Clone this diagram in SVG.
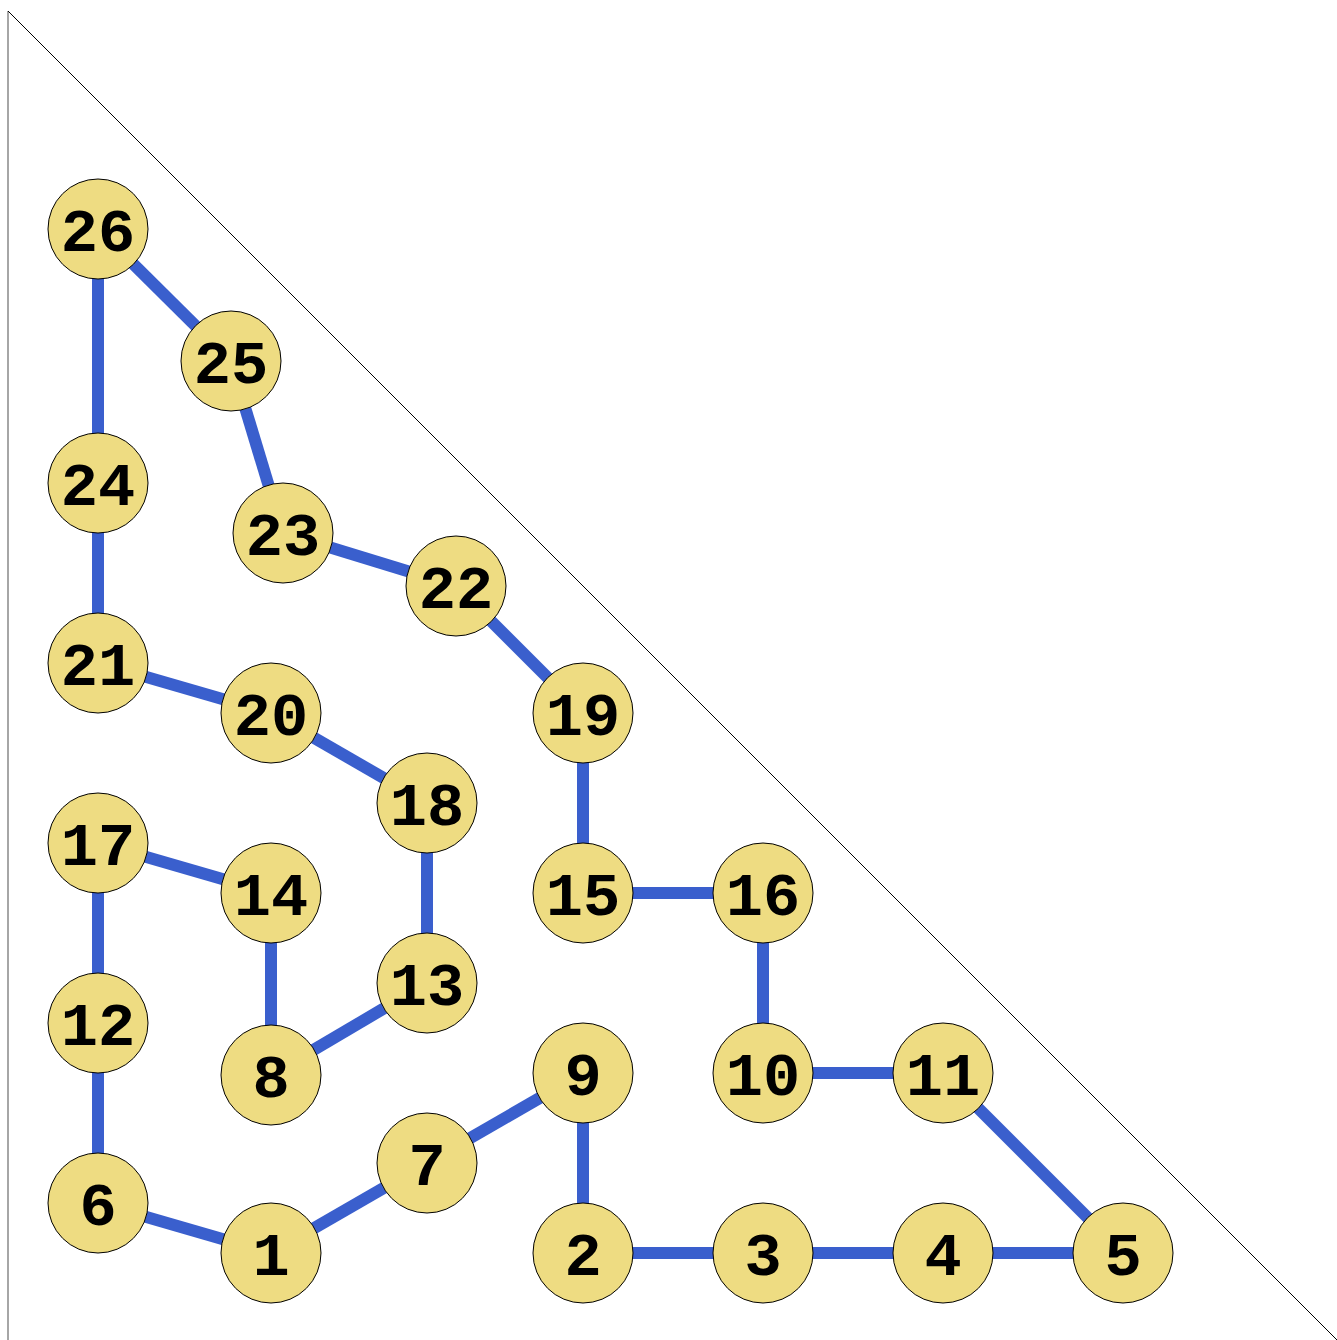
<svg xmlns="http://www.w3.org/2000/svg" width="1337" height="1340" viewBox="0 0 1337 1340">
<style>
.n circle{fill:#eedc82;stroke:#000;stroke-width:1}
.n text{font-family:"Liberation Mono","DejaVu Sans Mono",monospace;font-weight:bold;font-size:62px;text-anchor:middle;fill:#000}
#edges line{stroke:#3a5fcd;stroke-width:12}
</style>
<rect width="1337" height="1340" fill="#fff"/>
<line x1="8" y1="11" x2="8" y2="1340" stroke="#888" stroke-width="1.5"/>
<line x1="8" y1="11" x2="1337" y2="1340" stroke="#000" stroke-width="1"/>
<g id="edges">
<line x1="98" y1="229" x2="231" y2="361"/>
<line x1="98" y1="229" x2="98" y2="483"/>
<line x1="231" y1="361" x2="283" y2="533"/>
<line x1="98" y1="483" x2="98" y2="663"/>
<line x1="283" y1="533" x2="456" y2="586"/>
<line x1="456" y1="586" x2="583" y2="713"/>
<line x1="98" y1="663" x2="271" y2="713"/>
<line x1="271" y1="713" x2="427" y2="803"/>
<line x1="583" y1="713" x2="583" y2="893"/>
<line x1="427" y1="803" x2="427" y2="983"/>
<line x1="98" y1="843" x2="271" y2="893"/>
<line x1="98" y1="843" x2="98" y2="1023"/>
<line x1="271" y1="893" x2="271" y2="1075"/>
<line x1="583" y1="893" x2="763" y2="893"/>
<line x1="763" y1="893" x2="763" y2="1073"/>
<line x1="427" y1="983" x2="271" y2="1075"/>
<line x1="98" y1="1023" x2="98" y2="1203"/>
<line x1="763" y1="1073" x2="943" y2="1073"/>
<line x1="943" y1="1073" x2="1123" y2="1253"/>
<line x1="583" y1="1073" x2="427" y2="1163"/>
<line x1="583" y1="1073" x2="583" y2="1253"/>
<line x1="427" y1="1163" x2="271" y2="1253"/>
<line x1="98" y1="1203" x2="271" y2="1253"/>
<line x1="583" y1="1253" x2="763" y2="1253"/>
<line x1="763" y1="1253" x2="943" y2="1253"/>
<line x1="943" y1="1253" x2="1123" y2="1253"/>
</g>
<g id="n26" class="n"><circle cx="98" cy="229" r="50"/><text x="98" y="251">26</text></g>
<g id="n25" class="n"><circle cx="231" cy="361" r="50"/><text x="231" y="383">25</text></g>
<g id="n24" class="n"><circle cx="98" cy="483" r="50"/><text x="98" y="505">24</text></g>
<g id="n23" class="n"><circle cx="283" cy="533" r="50"/><text x="283" y="555">23</text></g>
<g id="n22" class="n"><circle cx="456" cy="586" r="50"/><text x="456" y="608">22</text></g>
<g id="n21" class="n"><circle cx="98" cy="663" r="50"/><text x="98" y="685">21</text></g>
<g id="n20" class="n"><circle cx="271" cy="713" r="50"/><text x="271" y="735">20</text></g>
<g id="n19" class="n"><circle cx="583" cy="713" r="50"/><text x="583" y="735">19</text></g>
<g id="n18" class="n"><circle cx="427" cy="803" r="50"/><text x="427" y="825">18</text></g>
<g id="n17" class="n"><circle cx="98" cy="843" r="50"/><text x="98" y="865">17</text></g>
<g id="n14" class="n"><circle cx="271" cy="893" r="50"/><text x="271" y="915">14</text></g>
<g id="n15" class="n"><circle cx="583" cy="893" r="50"/><text x="583" y="915">15</text></g>
<g id="n16" class="n"><circle cx="763" cy="893" r="50"/><text x="763" y="915">16</text></g>
<g id="n13" class="n"><circle cx="427" cy="983" r="50"/><text x="427" y="1005">13</text></g>
<g id="n12" class="n"><circle cx="98" cy="1023" r="50"/><text x="98" y="1045">12</text></g>
<g id="n8" class="n"><circle cx="271" cy="1075" r="50"/><text x="271" y="1097">8</text></g>
<g id="n9" class="n"><circle cx="583" cy="1073" r="50"/><text x="583" y="1095">9</text></g>
<g id="n10" class="n"><circle cx="763" cy="1073" r="50"/><text x="763" y="1095">10</text></g>
<g id="n11" class="n"><circle cx="943" cy="1073" r="50"/><text x="943" y="1095">11</text></g>
<g id="n7" class="n"><circle cx="427" cy="1163" r="50"/><text x="427" y="1185">7</text></g>
<g id="n6" class="n"><circle cx="98" cy="1203" r="50"/><text x="98" y="1225">6</text></g>
<g id="n1" class="n"><circle cx="271" cy="1253" r="50"/><text x="271" y="1275">1</text></g>
<g id="n2" class="n"><circle cx="583" cy="1253" r="50"/><text x="583" y="1275">2</text></g>
<g id="n3" class="n"><circle cx="763" cy="1253" r="50"/><text x="763" y="1275">3</text></g>
<g id="n4" class="n"><circle cx="943" cy="1253" r="50"/><text x="943" y="1275">4</text></g>
<g id="n5" class="n"><circle cx="1123" cy="1253" r="50"/><text x="1123" y="1275">5</text></g>
</svg>
